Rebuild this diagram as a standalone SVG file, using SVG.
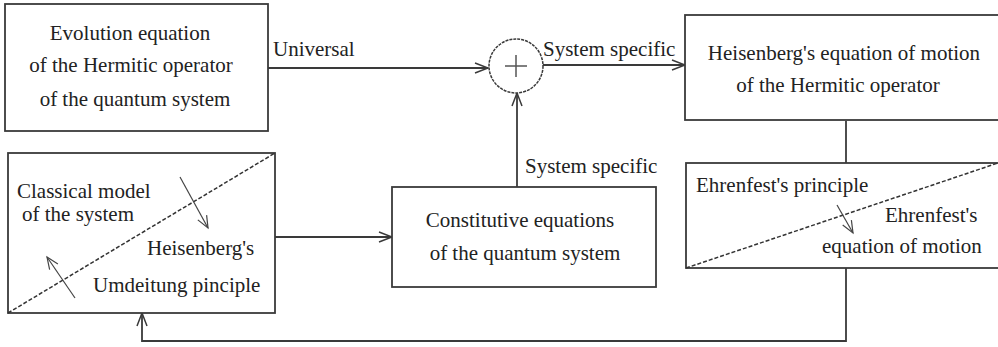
<svg xmlns="http://www.w3.org/2000/svg" width="998" height="347" viewBox="0 0 998 347">
<style>
.box{fill:#fff;stroke:#3a3a3a;stroke-width:1.8}
.t{font-family:'Liberation Serif','Times New Roman','DejaVu Serif',serif;font-size:21px;fill:#222}
.m{text-anchor:middle}
.ln{fill:none;stroke:#3a3a3a;stroke-width:1.8}
.dash{fill:none;stroke:#333;stroke-width:1.5;stroke-dasharray:4 2}
.thin{fill:none;stroke:#444;stroke-width:1.2}
</style>
<defs>
<marker id="arr" markerUnits="userSpaceOnUse" markerWidth="16" markerHeight="14" viewBox="-14 -7 16 14" refX="0" refY="0" orient="auto">
<path d="M-13,-5 L0,0 L-13,5" fill="none" stroke="#3a3a3a" stroke-width="1.5"/>
</marker>
<marker id="arrs" markerUnits="userSpaceOnUse" markerWidth="16" markerHeight="14" viewBox="-14 -7 16 14" refX="0" refY="0" orient="auto">
<path d="M-12,-5 L0,0 L-12,5" fill="none" stroke="#444" stroke-width="1.2"/>
</marker>
</defs>
<rect width="998" height="347" fill="#fff"/>

<g id="connectors">
<line class="ln" x1="268" y1="68" x2="488" y2="68" marker-end="url(#arr)"/>
<line class="ln" x1="543" y1="65" x2="685" y2="65" marker-end="url(#arr)"/>
<line class="ln" x1="517" y1="187" x2="517" y2="93" marker-end="url(#arr)"/>
<line class="ln" x1="275" y1="237" x2="392" y2="237" marker-end="url(#arr)"/>
<line class="ln" x1="846" y1="121" x2="846" y2="163"/>
<polyline class="ln" points="846,268 846,341 142,341 142,313" marker-end="url(#arr)"/>
<text class="t" x="273" y="56">Universal</text>
<text class="t" x="543" y="56">System specific</text>
<text class="t" x="525" y="173">System specific</text>
</g>

<g id="sum">
<circle cx="516" cy="66" r="27" fill="#fff" stroke="#3a3a3a" stroke-width="1.5" stroke-dasharray="3 1"/>
<line x1="505" y1="66" x2="527" y2="66" stroke="#555" stroke-width="1.5"/>
<line x1="516" y1="55" x2="516" y2="77" stroke="#555" stroke-width="1.5"/>
</g>

<g id="evolution">
<rect class="box" x="5" y="4" width="263" height="127"/>
<text class="t m" x="130" y="40">Evolution equation</text>
<text class="t m" x="131" y="72">of the Hermitic  operator</text>
<text class="t m" x="135" y="106">of the quantum system</text>
</g>

<g id="heisenberg">
<rect class="box" x="685" y="15" width="320" height="105"/>
<text class="t m" x="844" y="60">Heisenberg's equation of motion</text>
<text class="t m" x="838" y="92">of the Hermitic operator</text>
</g>

<g id="classical">
<rect class="box" x="8" y="153" width="267" height="160"/>
<line class="dash" x1="8" y1="313" x2="275" y2="153"/>
<line class="thin" x1="180" y1="177" x2="208" y2="228" marker-end="url(#arrs)"/>
<line class="thin" x1="75" y1="298" x2="47" y2="257" marker-end="url(#arrs)"/>
<text class="t" x="17" y="198">Classical model</text>
<text class="t" x="22" y="221">of the system</text>
<text class="t" x="147" y="255">Heisenberg's</text>
<text class="t" x="93" y="292">Umdeitung pinciple</text>
</g>

<g id="constitutive">
<rect class="box" x="392" y="187" width="264" height="100"/>
<text class="t m" x="520" y="227">Constitutive equations</text>
<text class="t m" x="525" y="260">of the quantum system</text>
</g>

<g id="ehrenfest">
<rect class="box" x="686" y="163" width="320" height="105"/>
<line class="dash" x1="686" y1="268" x2="998" y2="163"/>
<line class="thin" x1="837" y1="205" x2="853" y2="233" marker-end="url(#arrs)"/>
<text class="t" x="696" y="192">Ehrenfest's principle</text>
<text class="t" x="885" y="222">Ehrenfest's</text>
<text class="t" x="822" y="253">equation of motion</text>
</g>
</svg>
